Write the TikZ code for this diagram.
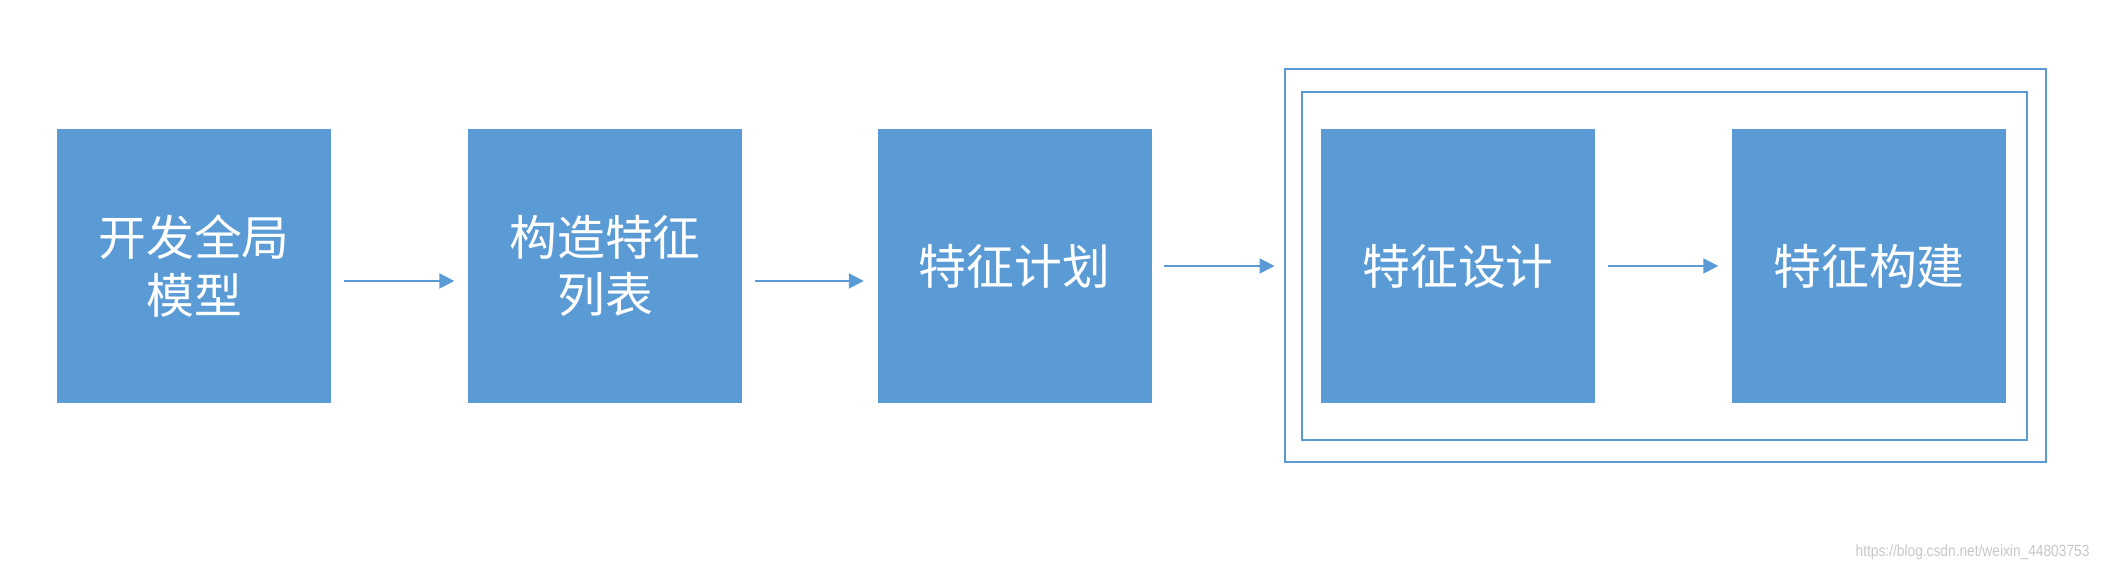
\documentclass[tikz,border=0pt]{standalone}
\usepackage{fontspec}
\usepackage{tikz}
\usetikzlibrary{arrows.meta}
\newfontfamily\cjk{Noto Sans CJK SC}
\setsansfont{Liberation Sans}
\definecolor{stepblue}{HTML}{5B9BD5}
\definecolor{markgray}{gray}{0.78}

\begin{document}
\begin{tikzpicture}[
  box/.style={fill=stepblue, minimum width=2.74cm, minimum height=2.74cm, inner sep=0pt, align=center, text=white, font=\cjk\fontsize{13.6}{16.4}\selectfont},
  frame/.style={draw=stepblue, line width=0.02cm, inner sep=0pt},
  arrow/.style={-{Triangle[length=0.15cm,width=0.15cm]}, stepblue, line width=0.02cm, shorten <=0.12cm, shorten >=0.13cm}
]
  \useasboundingbox (0,0) rectangle (21.1,5.7);

  % Frames round design and build
  \node[frame, minimum width=7.61cm, minimum height=3.93cm] (outer) at (16.65,3.04) {};
  \node[frame, minimum width=7.25cm, minimum height=3.48cm] (inner) at (16.64,3.04) {};

  % Steps
  \node[box] (model) at (1.94,3.04) {开发全局\\模型};
  \node[box] (featlist) at (6.05,3.04) {构造特征\\列表};
  \node[box] (plan) at (10.145,3.04) {特征计划};
  \node[box] (design) at (14.58,3.04) {特征设计};
  \node[box] (build) at (18.69,3.04) {特征构建};

  % Arrows
  \draw[arrow] ([yshift=-0.15cm]model.east) -- ([yshift=-0.15cm]featlist.west);
  \draw[arrow] ([yshift=-0.15cm]featlist.east) -- ([yshift=-0.15cm]plan.west);
  \draw[arrow, shorten >=0.09cm] (plan.east) -- (plan.east -| outer.west);
  \draw[arrow] (design) -- (build);

  % Watermark
  \node[markgray, anchor=east, xscale=0.85, font=\sffamily\fontsize{4.6}{5}\selectfont] (mark) at (21.0,0.18) {https://blog.csdn.net/weixin\_44803753};
\end{tikzpicture}
\end{document}
